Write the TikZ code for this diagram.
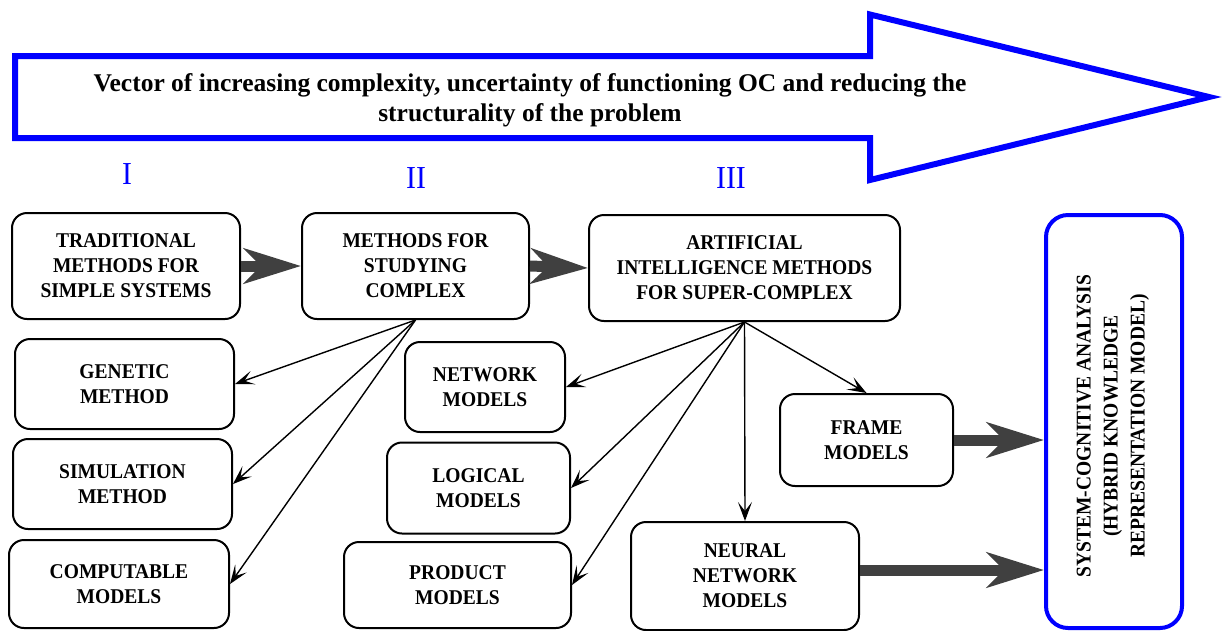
\documentclass[tikz,border=0pt]{standalone}
\usepackage{fontspec}
\setmainfont{Liberation Serif}
\newfontfamily\bx{Liberation Serif}[FakeStretch=0.93]
\newfontfamily\tx{Liberation Serif}
\usetikzlibrary{arrows.meta}
\definecolor{arrowgray}{HTML}{404040}
\definecolor{vblue}{HTML}{0000FF}
\tikzset{
  box/.style={draw=black, line width=2pt, rounded corners=15pt, align=center,
    font=\bx\bfseries\fontsize{21}{25}\selectfont, inner sep=0pt},
  thin/.style={draw=black, line width=1.4pt, -{Stealth[length=19pt,width=14pt,inset=9pt]}},
  thick/.style={draw=arrowgray, line width=11pt, -{Stealth[length=57pt,width=35pt,inset=17pt]}},
  roman/.style={text=vblue, font=\fontsize{32}{32}\selectfont\bx},
}
\begin{document}
\begin{tikzpicture}[x=1pt,y=-1pt]
\useasboundingbox (0,0) rectangle (1222,630);
% big arrow
\draw[draw=vblue, line width=6pt, miter limit=25]
  (15,56) -- (870,56) -- (870,14.5) -- (1209,97) -- (870,180) -- (870,138) -- (15,138) -- cycle;
\node[align=center, font=\tx\bfseries\fontsize{25.5}{30}\selectfont] (title) at (530,100)
  {Vector of increasing complexity, uncertainty of functioning OC and reducing the\\structurality of the problem};
% roman numerals
\node[roman] (r1) at (127,174) {I};
\node[roman] (r2) at (416,178) {II};
\node[roman] (r3) at (731,178) {III};
% boxes
\node[box, minimum width=228pt, minimum height=106pt] (trad) at (126,266) {TRADITIONAL\\METHODS FOR\\SIMPLE SYSTEMS};
\node[box, minimum width=227pt, minimum height=106pt] (meth) at (415.5,266) {METHODS FOR\\STUDYING\\COMPLEX};
\node[box, minimum width=311pt, minimum height=106pt] (ai) at (744.5,268) {ARTIFICIAL\\INTELLIGENCE METHODS\\FOR SUPER-COMPLEX};
\node[box, minimum width=219pt, minimum height=90pt] (gen) at (124.5,384) {GENETIC\\METHOD};
\node[box, minimum width=160pt, minimum height=90pt] (net) at (485,387) {NETWORK\\MODELS};
\node[box, minimum width=219pt, minimum height=90pt] (sim) at (122.5,484) {SIMULATION\\METHOD};
\node[box, minimum width=183pt, minimum height=91pt] (log) at (478.5,488) {LOGICAL\\MODELS};
\node[box, minimum width=220pt, minimum height=88pt] (comp) at (119,584) {COMPUTABLE\\MODELS};
\node[box, minimum width=227pt, minimum height=86pt] (prod) at (457.5,585) {PRODUCT\\MODELS};
\node[box, minimum width=173pt, minimum height=92pt] (frame) at (866.5,440) {FRAME\\MODELS};
\node[box, minimum width=228pt, minimum height=108pt] (neur) at (745,576) {NEURAL\\NETWORK\\MODELS};
\node[draw=vblue, line width=4pt, rounded corners=22pt, minimum width=136pt, minimum height=413pt,
  inner sep=0pt] (sca) at (1114,421.5) {};
\node[rotate=90, align=center, font=\bx\bfseries\fontsize{21}{27}\selectfont] (scatext) at (1113,426)
  {SYSTEM-COGNITIVE ANALYSIS\\(HYBRID KNOWLEDGE\\REPRESENTATION MODEL)};
% thick arrows
\draw[thick] (trad.east) -- (meth.west);
\draw[thick] (meth.east) -- (ai.west);
\draw[thick] (frame.east) -- (frame.east -| sca.west);
\draw[thick] ([yshift=6pt]neur.east) -- ([yshift=6pt]neur.east -| sca.west);
% thin arrows
\draw[thin] (meth.south) -- (gen.east);
\draw[thin] (meth.south) -- (sim.east);
\draw[thin] (meth.south) -- (comp.east);
\draw[thin] (ai.south) -- (net.east);
\draw[thin] (ai.south) -- (log.east);
\draw[thin] (ai.south) -- (prod.east);
\draw[thin] (ai.south) -- (neur.north);
\draw[thin] (ai.south) -- (frame.north);
\end{tikzpicture}
\end{document}
